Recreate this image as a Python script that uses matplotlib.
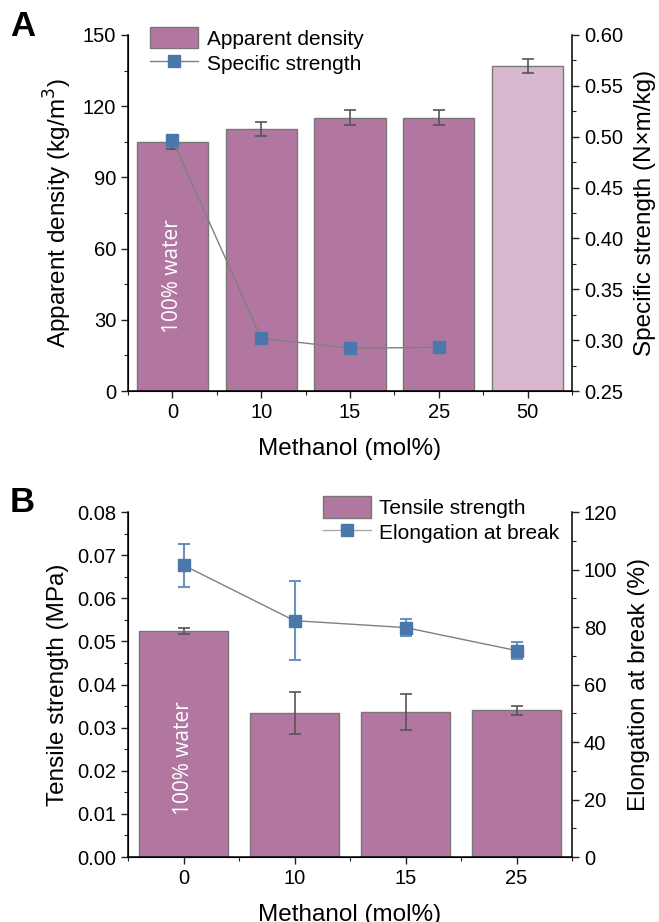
import matplotlib
matplotlib.use("Agg")
import matplotlib.pyplot as plt
from matplotlib.ticker import MultipleLocator, FixedLocator
from matplotlib.lines import Line2D
from matplotlib.patches import Patch

# ---- data ----
cats_a = ["0", "10", "15", "25", "50"]
density = [105, 110.5, 115.2, 115.2, 137]
density_err = [3.0, 3.0, 3.0, 3.0, 3.0]
spec_strength = [0.497, 0.302, 0.292, 0.293]
spec_err = [0.005, 0.0, 0.0, 0.0]

cats_b = ["0", "10", "15", "25"]
tensile = [0.0525, 0.0334, 0.0337, 0.0340]
tensile_err = [0.0007, 0.0048, 0.0042, 0.0010]
elong = [101.5, 82.2, 79.8, 71.8]
elong_err = [7.5, 13.8, 3.0, 3.0]

bar_c = "#B177A1"
bar_light = "#D8B8CF"
edge_c = "#777777"
mk_c = "#4A78AA"
line_c = "#808080"

plt.rcParams['font.family'] = ['Liberation Sans', 'DejaVu Sans']
narrow = ['Liberation Sans Narrow', 'Liberation Sans', 'DejaVu Sans']

fig = plt.figure(figsize=(6.59, 9.22), dpi=100)
W, H = 659, 922
def rect(l, r, t, b):
    return [l / W, 1 - b / H, (r - l) / W, (b - t) / H]

def style(ax, axr):
    for a in (ax, axr):
        a.spines['top'].set_visible(False)
        a.tick_params(which='both', direction='out', color='#222222')
        a.tick_params(which='major', length=5, width=1)
        a.tick_params(which='minor', length=3, width=0.8)
    ax.spines['right'].set_visible(False)
    for s in ('left', 'bottom'):
        ax.spines[s].set_linewidth(1.1)
    axr.spines['right'].set_linewidth(1.1)
    for lab in ax.get_xticklabels() + ax.get_yticklabels() + axr.get_yticklabels():
        lab.set_family(narrow)
        lab.set_fontsize(14.5)

# ---------- Panel A ----------
axA = fig.add_axes(rect(128, 572, 35, 391))
xa = list(range(len(cats_a)))
cols = [bar_c] * 4 + [bar_light]
axA.bar(xa, density, width=0.8, color=cols, edgecolor=edge_c, linewidth=1, zorder=2)
axA.errorbar(xa, density, yerr=density_err, fmt='none', ecolor='#555555',
             elinewidth=1.2, capsize=4, capthick=1.2, zorder=3)
axA.set_xlim(-0.5, 4.5)
axA.set_ylim(0, 150)
axA.yaxis.set_major_locator(MultipleLocator(30))
axA.yaxis.set_minor_locator(MultipleLocator(15))
axA.set_xticks(xa)
axA.set_xticklabels(cats_a)
axA.xaxis.set_minor_locator(FixedLocator([i + 0.5 for i in range(-1, 5)]))
axA.set_ylabel("Apparent density (kg/m$^3$)", fontsize=17.5, labelpad=6)
axA.set_xlabel("Methanol (mol%)", fontsize=17.5, labelpad=12)

axA2 = axA.twinx()
axA2.plot(xa[:4], spec_strength, color=line_c, linewidth=1, zorder=4)
axA2.errorbar(xa[:4], spec_strength, yerr=spec_err, fmt='s', color=mk_c,
              markersize=8, ecolor=mk_c, capsize=0, zorder=5)
axA2.set_ylim(0.25, 0.60)
axA2.yaxis.set_major_locator(MultipleLocator(0.05))
axA2.yaxis.set_minor_locator(MultipleLocator(0.025))
axA2.yaxis.set_major_formatter(matplotlib.ticker.FormatStrFormatter('%.2f'))
axA2.set_ylabel("Specific strength (N×m/kg)", fontsize=17.5, labelpad=8)
style(axA, axA2)
axA.text(0, 48.5, "100% water", rotation=90, color='white', fontsize=15,
         ha='center', va='center', family=['Open Sans', 'DejaVu Sans'], zorder=6)

hA = [Patch(facecolor=bar_c, edgecolor=edge_c),
      Line2D([], [], color=line_c, lw=1, marker='s', markersize=8,
             markerfacecolor=mk_c, markeredgecolor=mk_c)]
axA2.legend(hA, ["Apparent density", "Specific strength"], loc='upper left',
            bbox_to_anchor=(0.008, 1.075), frameon=False,
            handlelength=2.3, handleheight=1.2, handletextpad=0.4,
            labelspacing=0.15, prop={'family': narrow, 'size': 15})

fig.text(10 / W, 1 - 26 / H, "A", fontsize=25, fontweight='bold',
         ha='left', va='center', family=narrow)

# ---------- Panel B ----------
axB = fig.add_axes(rect(128, 572, 512, 857))
xb = list(range(len(cats_b)))
axB.bar(xb, tensile, width=0.8, color=bar_c, edgecolor=edge_c, linewidth=1, zorder=2)
axB.errorbar(xb, tensile, yerr=tensile_err, fmt='none', ecolor='#555555',
             elinewidth=1.2, capsize=4, capthick=1.2, zorder=3)
axB.set_xlim(-0.5, 3.5)
axB.set_ylim(0, 0.08)
axB.yaxis.set_major_locator(MultipleLocator(0.01))
axB.yaxis.set_minor_locator(MultipleLocator(0.005))
axB.yaxis.set_major_formatter(matplotlib.ticker.FormatStrFormatter('%.2f'))
axB.set_xticks(xb)
axB.set_xticklabels(cats_b)
axB.xaxis.set_minor_locator(FixedLocator([i + 0.5 for i in range(-1, 4)]))
axB.set_ylabel("Tensile strength (MPa)", fontsize=17.5, labelpad=6)
axB.set_xlabel("Methanol (mol%)", fontsize=17.5, labelpad=12)

axB2 = axB.twinx()
axB2.plot(xb, elong, color=line_c, linewidth=1, zorder=4)
axB2.errorbar(xb, elong, yerr=elong_err, fmt='s', color=mk_c, markersize=8,
              ecolor='#6C93C0', elinewidth=1.5, capsize=4, capthick=1.5, zorder=5)
axB2.set_ylim(0, 120)
axB2.yaxis.set_major_locator(MultipleLocator(20))
axB2.yaxis.set_minor_locator(MultipleLocator(10))
axB2.set_ylabel("Elongation at break (%)", fontsize=17.5, labelpad=8)
style(axB, axB2)
axB.text(0, 0.023, "100% water", rotation=90, color='white', fontsize=15,
         ha='center', va='center', family=['Open Sans', 'DejaVu Sans'], zorder=6)

hB = [Patch(facecolor=bar_c, edgecolor=edge_c),
      Line2D([], [], color='#AAAAAA', lw=1, marker='s', markersize=8,
             markerfacecolor=mk_c, markeredgecolor=mk_c)]
axB2.legend(hB, ["Tensile strength", "Elongation at break"], loc='upper left',
            bbox_to_anchor=(0.397, 1.10), frameon=False,
            handlelength=2.3, handleheight=1.2, handletextpad=0.4,
            labelspacing=0.15, prop={'family': narrow, 'size': 15})

fig.text(10 / W, 1 - 502 / H, "B", fontsize=25, fontweight='bold',
         ha='left', va='center', family=narrow)

fig.savefig("out.png", dpi=100)
